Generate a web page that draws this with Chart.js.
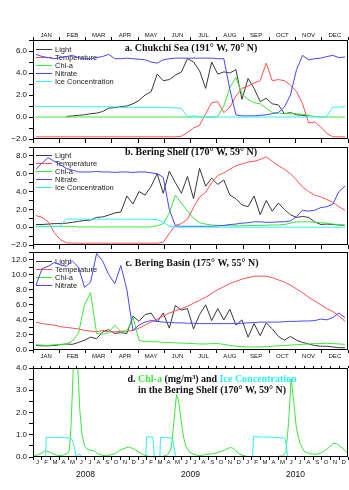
<!DOCTYPE html>
<html>
<head>
<meta charset="utf-8">
<script src="https://cdn.jsdelivr.net/npm/chart.js@4.4.1/dist/chart.umd.min.js"></script>
<style>
  html, body { margin: 0; padding: 0; background: #fff; }
  #wrap { position: relative; width: 349px; height: 490px; }
  canvas { position: absolute; left: 0; top: 0; }
</style>
</head>
<body>
<div id="wrap">
  <canvas id="panelA" width="349" height="490"></canvas>
  <canvas id="panelB" width="349" height="490"></canvas>
  <canvas id="panelC" width="349" height="490"></canvas>
  <canvas id="panelD" width="349" height="490"></canvas>
</div>
<script>
// ---- tick labels ----
const monthNames = ['JAN', 'FEB', 'MAR', 'APR', 'MAY', 'JUN', 'JUL', 'AUG', 'SEP', 'OCT', 'NOV', 'DEC'];
const monthLetters = ['J', 'F', 'M', 'A', 'M', 'J', 'J', 'A', 'S', 'O', 'N', 'D'];
const years = ['2008', '2009', '2010'];

// ---- weekly climatologies (52 values, Jan..Dec) ----
// a. Chukchi Sea
const chukchiLight = [null, null, null, null, null, 0.05, 0.1, 0.15, 0.2, 0.3, 0.35, 0.5, 0.8, 0.85, 0.95, 1.0, 1.2, 1.5, 2.0, 2.3,
  3.9, 3.3, 3.4, 3.8, 4.1, 5.3, 5.0, 4.2, 2.6, 5.0, 3.9, 4.1, 4.0, 4.3, 1.6, 3.5, 2.6, 1.4, 1.7, 1.2,
  1.1, 0.3, 0.4, 0.2, 0.15, 0.1, null, null, null, null, null, null];
const chukchiTemp = [-1.8, -1.8, -1.8, -1.8, -1.8, -1.8, -1.8, -1.8, -1.8, -1.8, -1.8, -1.8, -1.8, -1.8, -1.8, -1.8, -1.8, -1.8, -1.8, -1.8,
  -1.8, -1.8, -1.8, -1.8, -1.75, -1.4, -1.0, -0.75, 0.3, 1.3, 1.4, 0.4, 0.9, 1.9, 2.6, 2.8, 3.1, 3.3, 4.9, 3.3,
  3.4, 3.3, 2.9, 2.3, 1.2, -0.55, -0.45, -0.9, -1.5, -1.8, -1.8, -1.8];
const chukchiChl = [0, 0, 0, 0, 0, 0, 0, 0, 0, 0, 0, 0, 0, 0, 0, 0, 0, 0, 0, 0,
  0, 0, 0, 0, 0, 0, 0, 0, 0, 0, 0.05, 1.0, 2.7, 3.6, 2.1, 1.6, 1.3, 1.2, 0.8, 0.4,
  0.35, 0.3, 0.3, 0.3, 0.25, 0.15, 0.05, 0, 0, 0, 0, 0];
const chukchiNitrate = [5.7, 5.5, 5.4, 5.3, 5.4, 5.5, 5.6, 5.4, 5.3, 5.3, 5.4, 5.5, 5.7, 5.3, 5.3, 5.35, 5.3, 5.25, 5.2, 5.0,
  4.9, 5.2, 5.3, 5.35, 5.35, 5.35, 5.35, 5.35, 5.35, 5.35, 5.3, 5.3, 2.5, 0.2, 0.1, 0.1, 0.1, 0.15, 0.2, 0.3,
  0.4, 0.9, 2.0, 4.3, 5.6, 5.2, 5.3, 5.35, 5.5, 5.6, 5.4, 5.45];
const chukchiIce = [0.97, 0.97, 0.97, 0.97, 0.97, 0.97, 0.97, 0.93, 0.93, 0.93, 0.93, 0.93, 0.93, 0.93, 0.88, 0.88, 0.88, 0.88, 0.88, 0.88,
  0.88, 0.86, 0.85, 0.82, 0.78, 0.05, 0.1, 0.02, 0, 0, 0, 0, 0, 0, 0, 0, 0, 0, 0, 0,
  0, 0, 0, 0, 0, 0, 0, 0, 0.05, 0.9, 0.9, 0.95];

// b. Bering Shelf
const shelfLight = [0.3, 0.3, 0.35, 0.4, 0.4, 0.45, 0.55, 0.65, 0.75, 0.8, 1.1, 1.15, 1.35, 1.6, 1.7, 3.5, 2.6, 4.0, 3.6, 4.6,
  6.0, 3.8, 6.3, 5.0, 3.8, 5.7, 3.2, 6.6, 4.6, 5.5, 4.8, 5.3, 3.6, 3.2, 2.5, 2.3, 3.5, 1.4, 3.0, 1.8,
  2.7, 2.0, 1.4, 1.1, 1.2, 1.1, 0.6, 0.3, 0.35, 0.3, 0.25, 0.2];
const shelfTemp = [1.3, 1.1, 0.6, -0.6, -1.4, -1.75, -1.8, -1.8, -1.8, -1.8, -1.8, -1.8, -1.8, -1.8, -1.8, -1.8, -1.8, -1.8, -1.8, -1.8,
  -1.8, -1.7, -0.7, 0.2, 0.4, 0.9, 2.2, 3.4, 3.9, 5.0, 5.8, 6.1, 6.5, 6.9, 7.1, 7.3, 7.4, 7.6, 7.9, 7.4,
  6.9, 6.5, 6.0, 5.3, 4.5, 4.0, 3.6, 3.4, 3.1, 2.8, 2.3, 1.9];
const shelfChl = [0.1, 0.1, 0.1, 0.1, 0.1, 0.1, 0.1, 0.02, 0.02, 0.02, 0.02, 0.02, 0.02, 0.02, 0.02, 0.02, 0.02, 0.02, 0.02, 0.05,
  0.15, 0.4, 1.6, 3.6, 2.7, 1.8, 1.0, 0.5, 0.35, 0.25, 0.2, 0.18, 0.15, 0.15, 0.15, 0.18, 0.2, 0.2, 0.22, 0.25,
  0.25, 0.3, 0.45, 0.6, 0.6, 0.6, 0.55, 0.5, 0.45, 0.35, 0.3, 0.2];
const shelfNitrate = [6.5, 7.2, 7.8, 7.4, 7.0, 6.6, 6.4, 6.2, 6.2, 6.2, 6.25, 6.2, 6.2, 6.15, 6.2, 6.2, 6.15, 6.2, 6.2, 6.1,
  6.0, 5.6, 2.0, 0.15, 0.1, 0.1, 0.1, 0.1, 0.1, 0.1, 0.15, 0.2, 0.3, 0.35, 0.45, 0.5, 0.6, 0.6, 0.55, 0.55,
  0.6, 0.6, 0.7, 1.2, 1.9, 1.8, 1.9, 2.2, 2.3, 2.6, 4.0, 4.6];
const shelfIce = [0.05, 0.05, 0.05, 0.05, 0.1, 0.92, 0.9, 0.9, 0.9, 0.9, 0.9, 0.9, 0.9, 0.9, 0.9, 0.9, 0.9, 0.9, 0.9, 0.9,
  0.85, 0.55, 0.1, 0, 0, 0, 0, 0, 0, 0, 0, 0, 0, 0, 0, 0, 0, 0, 0, 0,
  0, 0, 0, 0, 0, 0, 0, 0, 0, 0, 0, 0];

// c. Bering Basin
const basinLight = [0.6, 0.55, 0.55, 0.6, 0.7, 0.8, 0.75, 1.0, 1.3, 1.7, 1.5, 2.4, 2.7, 2.2, 2.3, 2.2, 4.5, 3.8, 4.7, 4.9,
  3.7, 4.9, 2.9, 5.9, 5.3, 5.5, 2.8, 4.7, 6.0, 3.9, 5.5, 4.0, 5.4, 3.3, 4.0, 1.7, 3.5, 1.9, 3.6, 2.8,
  1.8, 1.3, 1.8, 1.3, 1.0, 0.8, 0.6, 0.5, 0.5, 0.4, 0.3, 0.3];
const basinTemp = [3.7, 3.5, 3.4, 3.3, 3.1, 3.0, 2.9, 2.8, 2.6, 2.5, 2.4, 2.6, 2.4, 2.4, 2.5, 2.5, 2.6, 2.9, 3.3, 3.7,
  4.1, 4.5, 4.9, 5.2, 5.5, 5.8, 6.2, 6.6, 7.0, 7.5, 8.0, 8.4, 8.8, 9.1, 9.4, 9.6, 9.8, 9.8, 9.8, 9.6,
  9.3, 9.0, 8.6, 8.1, 7.6, 7.0, 6.5, 6.0, 5.5, 5.1, 4.5, 3.8];
const basinChl = [0.7, 0.65, 0.6, 0.7, 0.75, 0.8, 1.2, 2.2, 6.0, 7.6, 2.2, 2.1, 2.3, 3.3, 2.4, 2.5, 4.3, 1.3, 1.1, 1.1,
  1.1, 1.0, 1.0, 0.95, 0.9, 0.9, 0.85, 0.8, 0.8, 0.85, 0.85, 0.75, 0.6, 0.5, 0.45, 0.4, 0.4, 0.4, 0.45, 0.5,
  0.55, 0.6, 0.65, 0.7, 0.75, 0.8, 0.85, 0.85, 0.9, 0.85, 0.8, 0.75];
const basinNitrate = [8.6, 10.8, 11.1, 11.6, 11.3, 11.1, 11.8, 11.0, 8.3, 9.0, 12.8, 11.8, 10.0, 8.8, 11.2, 8.0, 2.6, 3.3, 3.7, 3.9,
  3.8, 3.7, 3.65, 3.6, 3.6, 3.55, 3.55, 3.5, 3.5, 3.5, 3.5, 3.5, 3.5, 3.5, 3.55, 3.6, 3.65, 3.7, 3.7, 3.7,
  3.7, 3.75, 3.8, 3.8, 3.85, 3.85, 3.9, 4.1, 4.0, 4.3, 4.9, 4.3];

// d. Bering Shelf 2008-2010 (months since Jan 2008)
const shelfChlMonths = [0, 0.4, 0.9, 1.4, 1.9, 2.4, 2.9, 3.4, 3.9, 4.15, 4.35, 4.6, 4.85, 5.1, 5.35, 5.6, 5.9, 6.2, 6.6, 7.0,
  7.4, 7.9, 8.4, 8.9, 9.4, 9.9, 10.4, 10.9, 11.3, 11.7, 12.1, 12.5, 12.9, 13.3, 13.7, 14.6, 15.0, 15.4, 15.8, 16.1,
  16.4, 16.65, 16.9, 17.2, 17.5, 17.9, 18.4, 18.9, 19.4, 19.9, 20.4, 20.9, 21.4, 21.9, 22.3, 22.7, 23.1, 23.5, 23.9, 24.3,
  24.7, 26.3, 27.9, 28.5, 28.9, 29.2, 29.5, 29.8, 30.1, 30.5, 31.0, 31.6, 32.3, 32.9, 33.4, 33.9, 34.3, 34.7, 35.2, 35.6, 36.0];
const shelfChlSeries = [0.1, 0.07, 0.15, 0.28, 0.22, 0.12, 0.06, 0.08, 0.15, 0.3, 1.4, 4.0, 5.5, 4.2, 2.1, 1.0, 0.5, 0.35, 0.3, 0.28,
  0.15, 0.08, 0.05, 0.1, 0.15, 0.3, 0.38, 0.45, 0.4, 0.32, 0.22, 0.12, 0.06, 0.03, 0.0, 0.0, 0.05, 0.1, 0.4, 1.6,
  2.8, 2.5, 1.7, 0.9, 0.45, 0.22, 0.12, 0.06, 0.08, 0.12, 0.14, 0.18, 0.24, 0.3, 0.4, 0.42, 0.33, 0.15, 0.08, 0.04,
  0.0, 0.0, 0.02, 0.05, 0.2, 1.5, 3.5, 2.5, 1.3, 0.62, 0.25, 0.15, 0.12, 0.18, 0.3, 0.45, 0.62, 0.6, 0.45, 0.32, 0.15];
const shelfIceMonths = [1.45, 1.5, 2.5, 3.5, 4.1, 4.45, 4.7, 4.95, 5.2, 5.45, 5.6, 6.0, 12.9, 12.97, 13.7, 13.85,
  14.2, 14.5, 14.57, 15.0, 15.8, 16.0, 16.3, 16.6, 25.1, 25.2, 26.0, 27.0, 28.0, 28.6, 28.85, 29.1];
const shelfIceSeries = [0.0, 0.89, 0.88, 0.87, 0.86, 0.8, 0.5, 0.0, 0.12, 0.1, 0.0, null, 0.0, 0.9, 0.9, 0.0,
  null, 0.0, 0.88, 0.87, 0.86, 0.75, 0.0, null, 0.0, 0.92, 0.9, 0.89, 0.88, 0.86, 0.8, 0.0];

// ---- styles ----
const colors = {
  light: '#383838',
  temp: '#ff5050',
  chl: '#3ce63c',
  nitrate: '#4646ff',
  ice: '#30f0f0'
};
const sans = 'Liberation Sans';
const serif = 'Liberation Serif';
Chart.defaults.font.family = sans;

function weekly(values) {
  return values.map((v, i) => ({ x: (i + 0.5) * 12 / values.length, y: v }));
}
function paired(months, values) {
  return months.map((m, i) => ({ x: m, y: values[i] }));
}
function fmt(v) {
  return v.toFixed(1).replace('-', '\u2212');
}

// frame round the plot area
const framePlugin = {
  id: 'frame',
  afterDraw(chart) {
    const { ctx, chartArea: a } = chart;
    ctx.save();
    ctx.strokeStyle = '#000';
    ctx.lineWidth = 1;
    ctx.strokeRect(Math.round(a.left) + 0.5, Math.round(a.top) + 0.5, Math.round(a.width) - 1, Math.round(a.height) - 1);
    ctx.restore();
  }
};

// GrADS-like key: short line + name, stacked at the top left
const keyPlugin = {
  id: 'lineKey',
  beforeDatasetsDraw(chart, args, opts) {
    if (!opts.show) return;
    const { ctx, chartArea: a } = chart;
    ctx.save();
    ctx.font = '7.5px "' + sans + '"';
    ctx.textBaseline = 'middle';
    chart.data.datasets.forEach((ds, k) => {
      const y = Math.round(a.top + opts.first + k * opts.step) + 0.5;
      ctx.strokeStyle = ds.borderColor;
      ctx.lineWidth = 1;
      ctx.beginPath();
      ctx.moveTo(a.left + 3, y);
      ctx.lineTo(a.left + 19, y);
      ctx.stroke();
      ctx.fillStyle = '#222';
      ctx.fillText(ds.label, a.left + 22, y);
    });
    ctx.restore();
  }
};

// panel caption, possibly several coloured pieces per line
const captionPlugin = {
  id: 'caption',
  afterDatasetsDraw(chart, args, opts) {
    if (!opts.lines) return;
    const { ctx } = chart;
    ctx.save();
    ctx.font = 'bold 10px "' + serif + '"';
    ctx.textBaseline = 'middle';
    ctx.textAlign = 'left';
    opts.lines.forEach((pieces, r) => {
      const total = pieces.reduce((w, p) => w + ctx.measureText(p.text).width, 0);
      let x = opts.cx - total / 2;
      const y = opts.y + r * opts.dy;
      pieces.forEach(p => {
        ctx.fillStyle = p.color || '#111';
        ctx.fillText(p.text, x, y);
        x += ctx.measureText(p.text).width;
      });
    });
    ctx.restore();
  }
};

function yAxis(min, max, step, labelStep) {
  return {
    type: 'linear',
    min: min,
    max: max,
    afterFit: s => { s.width = 33; },
    grid: { drawOnChartArea: false, tickLength: 4, color: '#000' },
    border: { display: false },
    ticks: {
      stepSize: step,
      autoSkip: false,
      padding: 2,
      color: '#111',
      font: { size: 8 },
      callback: v => (Math.abs(Math.round(v / labelStep) * labelStep - v) < 1e-6 ? fmt(v) : '')
    }
  };
}

function catAxis(labels, position, opts) {
  return {
    type: 'category',
    labels: labels,
    position: position,
    offset: true,
    weight: opts.weight || 0,
    afterFit: s => { s.height = opts.height; },
    grid: {
      offset: true,
      display: opts.grid !== false,
      drawOnChartArea: false,
      drawTicks: opts.grid !== false,
      tickLength: opts.tick || 3,
      color: '#000'
    },
    border: { display: false },
    ticks: {
      display: !!opts.showLabels,
      autoSkip: false,
      maxRotation: 0,
      padding: opts.pad || 0,
      color: '#111',
      font: { size: opts.size || 6 }
    }
  };
}

function climateSets(light, temp, chl, nitrate, ice) {
  const list = [
    { label: 'Light', values: light, color: colors.light },
    { label: 'Temperature', values: temp, color: colors.temp },
    { label: 'Chl-a', values: chl, color: colors.chl },
    { label: 'Nitrate', values: nitrate, color: colors.nitrate }
  ];
  if (ice) list.push({ label: 'Ice Concentration', values: ice, color: colors.ice });
  return list.map((s, k) => ({
    label: s.label,
    data: weekly(s.values),
    borderColor: s.color,
    borderWidth: 1,
    pointRadius: 0,
    tension: 0,
    spanGaps: false,
    order: list.length - k
  }));
}

function makePanel(id, datasets, xMax, scales, padding, plugins) {
  return new Chart(document.getElementById(id), {
    type: 'line',
    data: { datasets: datasets },
    options: {
      responsive: false,
      animation: false,
      devicePixelRatio: 1,
      layout: { padding: padding },
      scales: Object.assign({ x: { type: 'linear', min: 0, max: xMax, display: false } }, scales),
      plugins: Object.assign({ legend: { display: false }, tooltip: { enabled: false } }, plugins)
    },
    plugins: [framePlugin, keyPlugin, captionPlugin]
  });
}

// a. Chukchi Sea: plot area 40..139
makePanel('panelA',
  climateSets(chukchiLight, chukchiTemp, chukchiChl, chukchiNitrate, chukchiIce), 12,
  {
    y: yAxis(-2, 7, 1, 2),
    xTop: catAxis(monthNames, 'top', { height: 40, showLabels: true, pad: -2 }),
    xBot: catAxis(monthNames, 'bottom', { height: 4, tick: 4 })
  },
  { left: 0, right: 1, top: 0, bottom: 490 - 139 - 4 },
  {
    lineKey: { show: true, first: 9, step: 8 },
    caption: { lines: [[{ text: 'a. Chukchi Sea (191\u00b0 W, 70\u00b0 N)' }]], cx: 191, y: 48.5, dy: 0 }
  });

// b. Bering Shelf: plot area 147..245
makePanel('panelB',
  climateSets(shelfLight, shelfTemp, shelfChl, shelfNitrate, shelfIce), 12,
  {
    y: yAxis(-2, 9, 1, 2),
    xBot: catAxis(monthNames, 'bottom', { height: 4, tick: 4 })
  },
  { left: 0, right: 1, top: 147, bottom: 490 - 245 - 4 },
  {
    lineKey: { show: true, first: 7.5, step: 8.2 },
    caption: { lines: [[{ text: 'b. Bering Shelf (170\u00b0 W, 59\u00b0 N)' }]], cx: 191, y: 152.5, dy: 0 }
  });

// c. Bering Basin: plot area 252..350
makePanel('panelC',
  climateSets(basinLight, basinTemp, basinChl, basinNitrate, null), 12,
  {
    y: yAxis(0, 13, 1, 2),
    xBot: catAxis(monthNames, 'bottom', { height: 12, showLabels: true, tick: 3, pad: 0 })
  },
  { left: 0, right: 1, top: 252, bottom: 490 - 350 - 12 },
  {
    lineKey: { show: true, first: 8.7, step: 8.1 },
    caption: { lines: [[{ text: 'c. Bering Basin (175\u00b0 W, 55\u00b0 N)' }]], cx: 192, y: 263.5, dy: 0 }
  });

// d. Chl-a and ice on the Bering Shelf 2008-2010: plot area 368..457
const letters36 = monthLetters.concat(monthLetters, monthLetters);
makePanel('panelD',
  [
    { label: 'Chl-a', data: paired(shelfChlMonths, shelfChlSeries), borderColor: colors.chl, borderWidth: 1, pointRadius: 0, tension: 0, order: 2 },
    { label: 'Ice Concentration', data: paired(shelfIceMonths, shelfIceSeries), borderColor: colors.ice, borderWidth: 1, pointRadius: 0, tension: 0, spanGaps: false, order: 1 }
  ], 36,
  {
    y: yAxis(0, 4, 0.5, 1),
    xTop: catAxis(letters36, 'top', { height: 3, tick: 2 }),
    xMon: catAxis(letters36, 'bottom', { height: 12, showLabels: true, tick: 3, pad: -1, weight: 0 }),
    xYear: catAxis(years, 'bottom', { height: 14, showLabels: true, grid: false, pad: 1, size: 8.5, weight: 1 })
  },
  { left: 0, right: 1, top: 368 - 3, bottom: 490 - 457 - 12 - 14 },
  {
    lineKey: { show: false },
    caption: {
      lines: [
        [{ text: 'd. ' }, { text: 'Chl-a', color: colors.chl }, { text: ' (mg/m\u00b3) and ' }, { text: 'Ice Concentration', color: colors.ice }],
        [{ text: 'in the Bering Shelf (170\u00b0 W, 59\u00b0 N)' }]
      ],
      cx: 212, y: 379, dy: 11.7
    }
  });
</script>
</body>
</html>
